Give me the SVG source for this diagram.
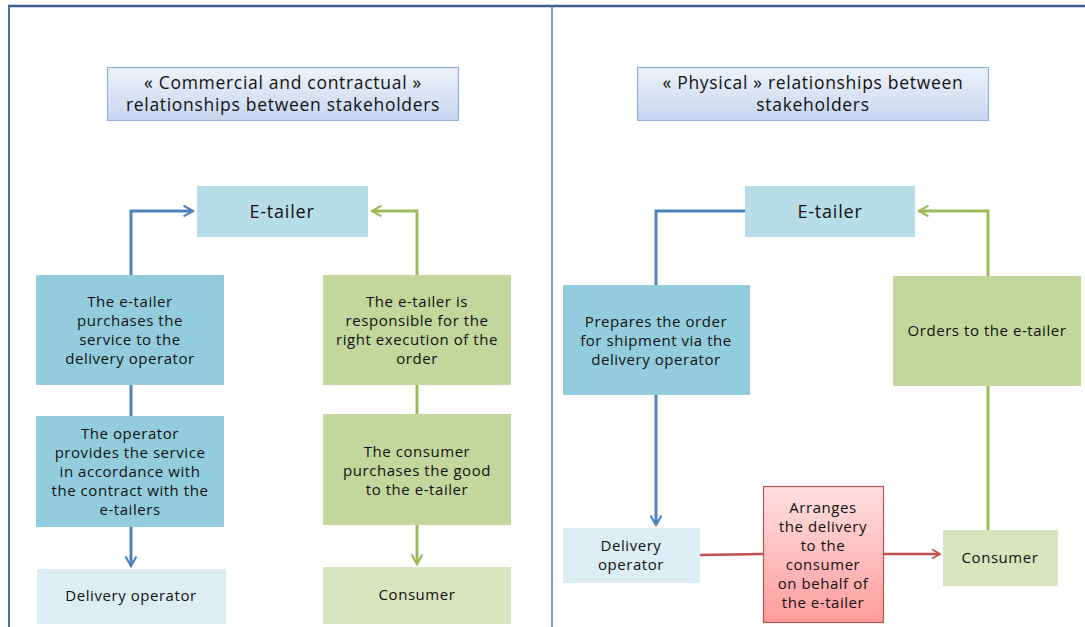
<svg xmlns="http://www.w3.org/2000/svg" width="1085" height="627" viewBox="0 0 1085 627">
<defs>
<linearGradient id="tg" x1="0" y1="0" x2="0" y2="1"><stop offset="0" stop-color="#eef2fa"/><stop offset="1" stop-color="#c6d6ef"/></linearGradient>
<linearGradient id="rg" x1="0" y1="0" x2="0" y2="1"><stop offset="0" stop-color="#ffe0e0"/><stop offset="1" stop-color="#ff9c9c"/></linearGradient>
<marker id="ab" viewBox="0 0 10 10" refX="8" refY="5" markerWidth="4.5" markerHeight="4.5" orient="auto" markerUnits="strokeWidth"><path d="M1,1 L8,5 L1,9" fill="none" stroke="#4f81bd" stroke-width="1.6"/></marker>
<marker id="ag" viewBox="0 0 10 10" refX="8" refY="5" markerWidth="4.5" markerHeight="4.5" orient="auto" markerUnits="strokeWidth"><path d="M1,1 L8,5 L1,9" fill="none" stroke="#9bbb59" stroke-width="1.6"/></marker>
<marker id="ar" viewBox="0 0 10 10" refX="8" refY="5" markerWidth="4.5" markerHeight="4.5" orient="auto" markerUnits="strokeWidth"><path d="M1,1 L8,5 L1,9" fill="none" stroke="#c0504d" stroke-width="1.6"/></marker>
</defs>
<style>
text{font-family:"Open Sans","Liberation Sans",sans-serif;font-size:15px;letter-spacing:0.55px;fill:#111111;text-anchor:middle}
.t{font-size:17.5px;letter-spacing:0.7px}
.e{font-size:18px;letter-spacing:0.8px}
.title{fill:url(#tg);stroke:#8fb0dc;stroke-width:1.2}
.et{fill:#b7dde8}
.bl{fill:#93cddd}
.lb{fill:#daeef3}
.gr{fill:#c3d69b}
.lg{fill:#d7e4bd}
.rd{fill:url(#rg);stroke:#c0504d;stroke-width:1.2}
.cb{fill:none;stroke:#4f81bd;stroke-width:3}
.cg{fill:none;stroke:#9bbb59;stroke-width:3}
.cr{fill:none;stroke:#c0504d;stroke-width:2.5}
</style>
<rect width="1085" height="627" fill="#ffffff"/>
<g id="frame">
<line x1="8" y1="6" x2="1085" y2="6" stroke="#3b5e8c" stroke-width="2.5"/>
<line x1="9" y1="6" x2="9" y2="627" stroke="#4a72a8" stroke-width="2"/>
<line x1="552" y1="6" x2="552" y2="627" stroke="#4f7cb8" stroke-width="1.5"/>
</g>
<g id="title-left"><rect class="title" x="107.5" y="67.5" width="351" height="53"/><text class="t" x="283" y="89">« Commercial and contractual »</text><text class="t" x="283" y="111">relationships between stakeholders</text></g>
<g id="title-right"><rect class="title" x="637.5" y="67.5" width="351" height="53"/><text class="t" x="813" y="89">« Physical » relationships between</text><text class="t" x="813" y="111">stakeholders</text></g>

<g id="connectors">
<polyline class="cb" points="131,275 131,211 193,211" marker-end="url(#ab)"/>
<line class="cb" x1="131" y1="385" x2="131" y2="416"/>
<line class="cb" x1="131" y1="527" x2="131" y2="566" marker-end="url(#ab)"/>
<polyline class="cg" points="417,275 417,211 372,211" marker-end="url(#ag)"/>
<line class="cg" x1="417" y1="385" x2="417" y2="414"/>
<line class="cg" x1="417" y1="525" x2="417" y2="564" marker-end="url(#ag)"/>
<polyline class="cb" points="745,211 656,211 656,285"/>
<line class="cb" x1="656" y1="395" x2="656" y2="525" marker-end="url(#ab)"/>
<polyline class="cg" points="988,276 988,211 919,211" marker-end="url(#ag)"/>
<line class="cg" x1="988" y1="386" x2="988" y2="530"/>
<line class="cr" x1="700" y1="555" x2="763" y2="554"/>
<line class="cr" x1="883" y1="554" x2="940" y2="554" marker-end="url(#ar)"/>
</g>

<g id="l-etailer"><rect class="et" x="197" y="186" width="171" height="51"/><text class="e" x="282" y="218">E-tailer</text></g>
<g id="l-purchases"><rect class="bl" x="36" y="275" width="188" height="110"/><text x="130" y="307">The e-tailer</text><text x="130" y="326">purchases the</text><text x="130" y="345">service to the</text><text x="130" y="364">delivery operator</text></g>
<g id="l-provides"><rect class="bl" x="36" y="416" width="188" height="111"/><text x="130" y="439">The operator</text><text x="130" y="458">provides the service</text><text x="130" y="477">in accordance with</text><text x="130" y="496">the contract with the</text><text x="130" y="515">e-tailers</text></g>
<g id="l-delivery"><rect class="lb" x="37" y="569" width="189" height="55"/><text x="131" y="601">Delivery operator</text></g>
<g id="l-responsible"><rect class="gr" x="323" y="275" width="188" height="110"/><text x="417" y="307">The e-tailer is</text><text x="417" y="326">responsible for the</text><text x="417" y="345">right execution of the</text><text x="417" y="364">order</text></g>
<g id="l-consumer-purchases"><rect class="gr" x="323" y="414" width="188" height="111"/><text x="417" y="457">The consumer</text><text x="417" y="476">purchases the good</text><text x="417" y="495">to the e-tailer</text></g>
<g id="l-consumer"><rect class="lg" x="323" y="567" width="188" height="57"/><text x="417" y="600">Consumer</text></g>

<g id="r-etailer"><rect class="et" x="745" y="186" width="170" height="51"/><text class="e" x="830" y="218">E-tailer</text></g>
<g id="r-prepares"><rect class="bl" x="563" y="285" width="187" height="110"/><text x="656" y="327">Prepares the order</text><text x="656" y="346">for shipment via the</text><text x="656" y="365">delivery operator</text></g>
<g id="r-orders"><rect class="gr" x="893" y="276" width="188" height="110"/><text x="987" y="336">Orders to the e-tailer</text></g>
<g id="r-delivery"><rect class="lb" x="563" y="528" width="137" height="55"/><text x="631" y="551">Delivery</text><text x="631" y="570">operator</text></g>
<g id="r-arranges"><rect class="rd" x="763.5" y="486.5" width="120" height="136"/><text x="823" y="513">Arranges</text><text x="823" y="532">the delivery</text><text x="823" y="551">to the</text><text x="823" y="570">consumer</text><text x="823" y="589">on behalf of</text><text x="823" y="608">the e-tailer</text></g>
<g id="r-consumer"><rect class="lg" x="943" y="530" width="115" height="56"/><text x="1000" y="563">Consumer</text></g>
</svg>
